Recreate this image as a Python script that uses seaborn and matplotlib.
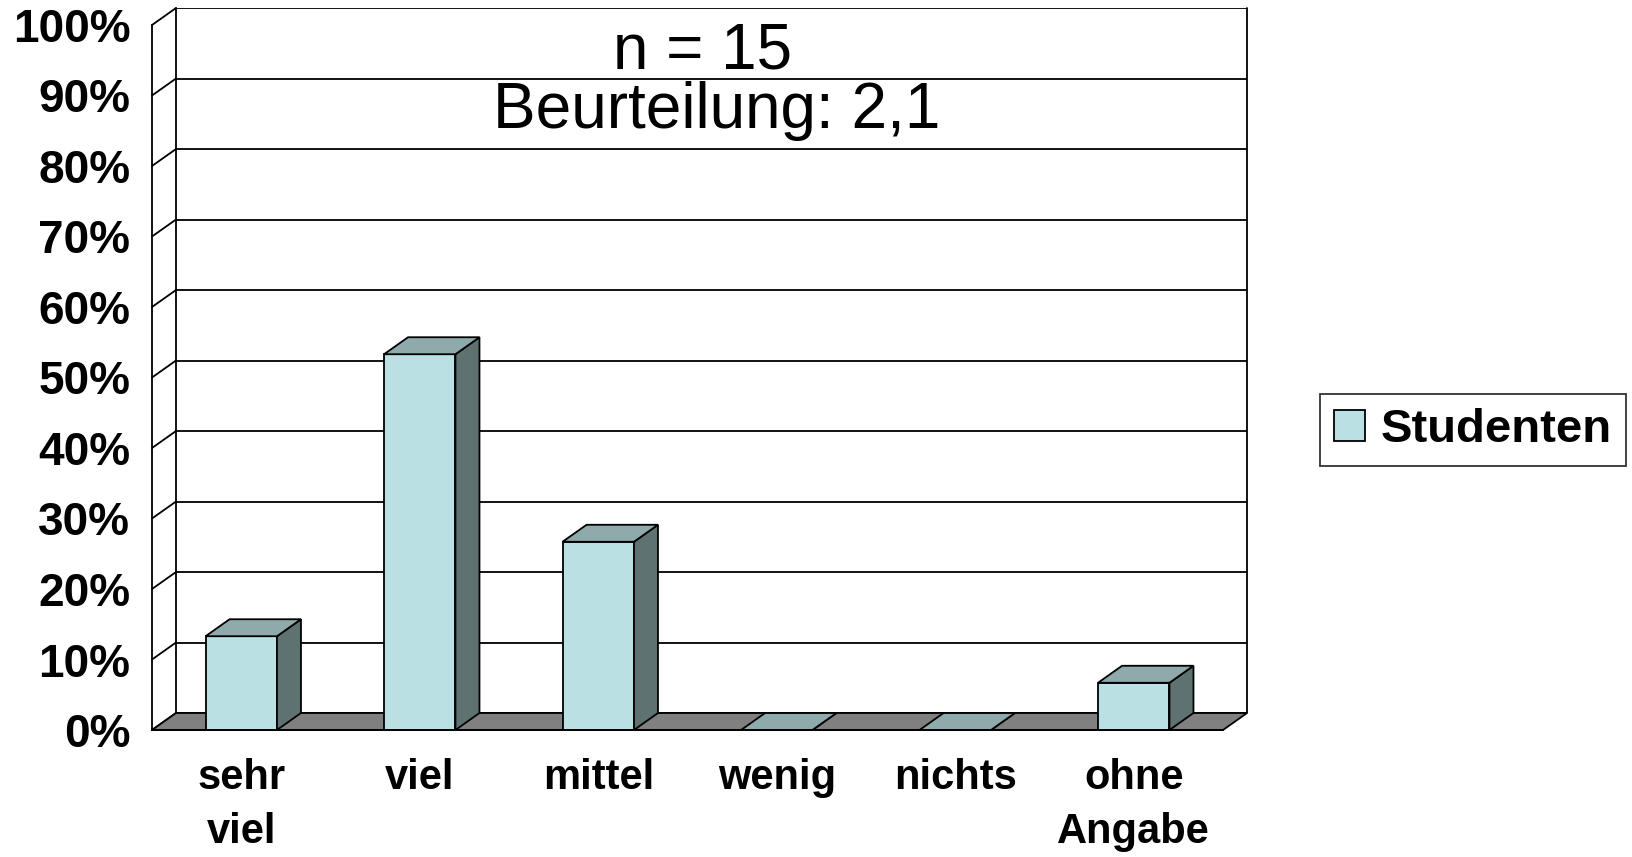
import numpy as np
import pandas as pd
import seaborn as sns
import matplotlib.pyplot as plt
from matplotlib.patches import Polygon

# data (n = 15)
kategorien = ["sehr\nviel", "viel", "mittel", "wenig", "nichts", "ohne\nAngabe"]
studenten = [13.3, 53.3, 26.7, 0.0, 0.0, 6.7]
y_ticks = [0, 10, 20, 30, 40, 50, 60, 70, 80, 90, 100]
y_labels = ["0%", "10%", "20%", "30%", "40%", "50%", "60%", "70%", "80%", "90%", "100%"]

sns.set_style("white")
plt.rcParams['font.family'] = ['Liberation Sans', 'DejaVu Sans']
for k in ["text.color", "axes.labelcolor", "xtick.color", "ytick.color"]:
    plt.rcParams[k] = "black"

front_col = "#BBE0E3"
top_col = "#8EAAAB"
side_col = "#5F7272"
floor_col = "#808080"
lw = 1.3

# 3D depth offset (data units)
DX = 0.1345
DY = 2.41

fig = plt.figure(figsize=(16.32, 8.57), dpi=100)
ax = fig.add_axes([0.09314, 0.14819, 0.67096, 0.84247])

df = pd.DataFrame({"Kategorie": kategorien, "Anteil": studenten})
sns.barplot(data=df, x="Kategorie", y="Anteil", color=front_col, edgecolor="black",
            linewidth=lw, width=0.4, saturation=1, label="Studenten", zorder=3, ax=ax)

ax.set_xlim(-0.5, 5.5 + DX)
ax.set_ylim(0, 100 + DY)

# back wall gridlines + left wall diagonals
for v in y_ticks:
    ax.plot([-0.5 + DX, 5.5 + DX], [v + DY, v + DY], color="black", lw=lw, zorder=0.5)
    ax.plot([-0.5, -0.5 + DX], [v, v + DY], color="black", lw=lw, zorder=0.5, clip_on=False)
ax.plot([-0.5 + DX, -0.5 + DX], [DY, 100 + DY], color="black", lw=lw, zorder=0.5, clip_on=False)
ax.plot([5.5 + DX, 5.5 + DX], [DY, 100 + DY], color="black", lw=lw, zorder=0.5, clip_on=False)

# floor
ax.add_patch(Polygon([(-0.5, 0), (5.5, 0), (5.5 + DX, DY), (-0.5 + DX, DY)], closed=True,
                     facecolor=floor_col, edgecolor="black", lw=lw, zorder=1, clip_on=False))

# top and side faces from the drawn bars
for p in ax.patches[:len(kategorien)]:
    x0 = p.get_x()
    x1 = x0 + p.get_width()
    h = p.get_height()
    ax.add_patch(Polygon([(x1, 0), (x1 + DX, DY), (x1 + DX, h + DY), (x1, h)], closed=True,
                         facecolor=side_col, edgecolor="black", lw=lw, zorder=3))
    ax.add_patch(Polygon([(x0, h), (x1, h), (x1 + DX, h + DY), (x0 + DX, h + DY)], closed=True,
                         facecolor=top_col, edgecolor="black", lw=lw, zorder=3.5))

# axes / ticks
for s in ["top", "right"]:
    ax.spines[s].set_visible(False)
ax.spines["left"].set_bounds(0, 100)
ax.spines["bottom"].set_bounds(-0.5, 5.5)
for s in ["left", "bottom"]:
    ax.spines[s].set_linewidth(lw)
    ax.spines[s].set_color("black")
    ax.spines[s].set_zorder(4)

ax.set_yticks(y_ticks)
ax.set_yticklabels(y_labels, fontsize=33, fontweight="bold")
ax.tick_params(axis="y", length=7.5, width=lw, direction="out", pad=8, color="black")

ax.set_xticks(np.arange(-0.5, 6, 1))
ax.set_xticklabels([""] * 7)
ax.set_xticks(np.arange(len(kategorien)), minor=True)
ax.set_xticklabels(kategorien, minor=True, fontsize=30, fontweight="bold", linespacing=1.45)
ax.tick_params(axis="x", which="major", length=8.5, width=lw, direction="out", color="black")
ax.tick_params(axis="x", which="minor", length=0, pad=20)
ax.set_xlabel("")
ax.set_ylabel("")

fig.text(0.4302, 0.9195, "n = 15", fontsize=46, ha="center", va="baseline")
fig.text(0.4393, 0.851, "Beurteilung: 2,1", fontsize=46, ha="center", va="baseline")

leg = ax.legend(loc="center", bbox_to_anchor=(0.9026, 0.498), bbox_transform=fig.transFigure,
                prop={"size": 34, "weight": "bold"}, fancybox=False, frameon=True,
                handlelength=0.65, handleheight=0.65, handletextpad=0.35, borderpad=0.3,
                borderaxespad=0)
leg.get_frame().set_edgecolor("black")
leg.get_frame().set_linewidth(lw)

plt.savefig("out.png", dpi=100)
